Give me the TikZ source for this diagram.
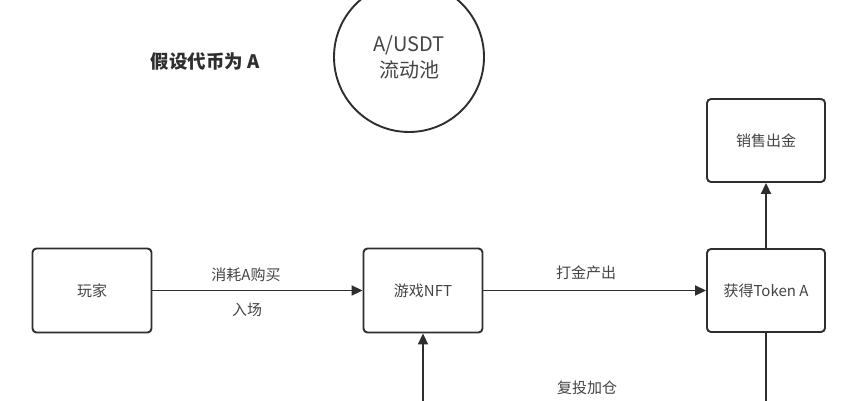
\documentclass[tikz,border=0pt]{standalone}
\usepackage{fontspec}
\setmainfont{Noto Sans CJK SC}
\usetikzlibrary{arrows.meta}
\definecolor{linec}{HTML}{2E2E2E}
\definecolor{textc}{HTML}{444444}
\begin{document}
\begin{tikzpicture}[x=1pt,y=-1pt,
  box/.style={draw=linec,line width=1.9pt,rounded corners=4pt,minimum width=119pt,minimum height=84pt,inner sep=0pt,text=textc,font=\fontsize{15}{16}\selectfont},
  lbl/.style={text=textc,inner sep=0pt,font=\fontsize{15}{16}\selectfont},
  conn/.style={draw=linec,line width=1.9pt,-{Triangle[length=11pt,width=10pt]}}]
\useasboundingbox (0,0) rectangle (865,401);
\clip (0,0) rectangle (865,401);
\fill[white] (0,0) rectangle (865,401);
\node[circle,draw=linec,line width=1.9pt,minimum size=150pt,inner sep=0pt,text=textc,align=center,font=\fontsize{20}{26}\selectfont] (pool) at (409,57) {A/USDT\\流动池};
\node[text=linec,inner sep=0pt,font=\fontsize{18.5}{20}\selectfont\bfseries] (title) at (205,62) {假设代币为 A};
\node[box] (player) at (92,290.5) {玩家};
\node[box] (nft) at (423,290.5) {游戏NFT};
\node[box,minimum width=118pt,minimum height=83pt] (token) at (766,290.5) {获得Token A};
\node[box,minimum width=118pt,minimum height=83pt] (sell) at (766,140.5) {销售出金};
\draw[conn] (player.east) -- (nft.west);
\draw[conn] (nft.east) -- (token.west);
\draw[conn] (token.north) -- (sell.south);
\coordinate (loopR) at (766,401.8);
\coordinate (loopL) at (423,401.8);
\draw[conn] (token.south) -- (loopR) -- (loopL) -- (nft.south);
\node[lbl] (l1) at (246,275) {消耗A购买};
\node[lbl] (l2) at (247,310) {入场};
\node[lbl] (l3) at (586,273) {打金产出};
\node[lbl] (l4) at (587,388) {复投加仓};
\end{tikzpicture}
\end{document}
